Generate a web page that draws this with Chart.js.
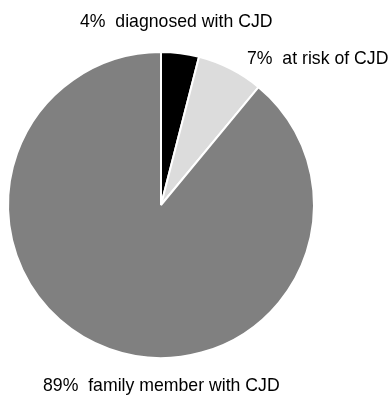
<!DOCTYPE html>
<html>
<head>
<meta charset="utf-8">
<script src="https://cdn.jsdelivr.net/npm/chart.js@4"></script>
<style>
  html, body { margin: 0; padding: 0; background: #fff; }
  canvas { display: block; }
</style>
</head>
<body>
<canvas id="pieChart" width="392" height="396"></canvas>
<script>
const labels = ["diagnosed with CJD", "at risk of CJD", "family member with CJD"];
const percents = [4, 7, 89];
const colors = ["#000000", "#dcdcdc", "#808080"];

const labelFont = "19px 'Liberation Sans', Arial, sans-serif";
const squeeze = 0.93; // source font is a bit narrower than Arial

function drawLabel(ctx, text, x, y) {
    ctx.save();
    ctx.translate(x, y);
    ctx.scale(squeeze, 1);
    ctx.fillText(text, 0, 0);
    ctx.restore();
}

// Draw the three outside labels next to the pie
const outsideLabels = {
    id: "outsideLabels",
    afterDraw(chart) {
        const ctx = chart.ctx;
        const arc = chart.getDatasetMeta(0).data[0];
        const cx = arc.x, cy = arc.y, r = arc.outerRadius;
        ctx.save();
        ctx.font = labelFont;
        ctx.fillStyle = "#000";
        ctx.textBaseline = "alphabetic";
        ctx.textAlign = "left";
        drawLabel(ctx, percents[0] + "%  " + labels[0], cx - 81, cy - r - 25);
        drawLabel(ctx, percents[1] + "%  " + labels[1], cx + 86, cy - r + 12);
        drawLabel(ctx, percents[2] + "%  " + labels[2], cx - 118, cy + r + 33);
        ctx.restore();
    }
};

const ctx = document.getElementById("pieChart").getContext("2d");
new Chart(ctx, {
    type: "pie",
    data: {
        labels: labels,
        datasets: [{
            data: percents,
            backgroundColor: colors,
            borderColor: "#ffffff",
            borderWidth: 2
        }]
    },
    options: {
        responsive: false,
        animation: false,
        layout: {
            padding: { left: 7, right: 77, top: 51, bottom: 37 }
        },
        plugins: {
            legend: { display: false },
            tooltip: { enabled: false }
        }
    },
    plugins: [outsideLabels]
});
</script>
</body>
</html>
